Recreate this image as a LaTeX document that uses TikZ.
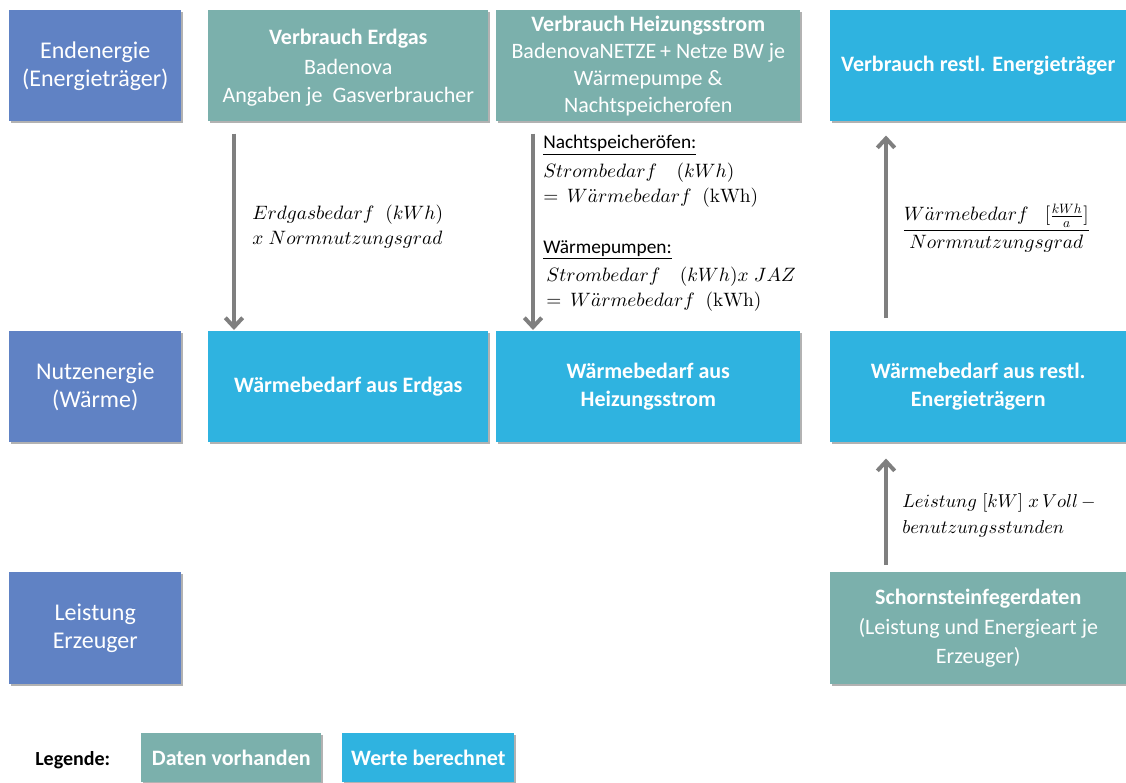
\documentclass[tikz,border=0pt]{standalone}
\usepackage[no-math]{fontspec}
\setmainfont{Carlito}
\DeclareFontShape{OML}{cmm}{m}{it}{<->cmmi10}{}
\DeclareFontShape{OT1}{cmr}{m}{n}{<->cmr10}{}
\DeclareFontShape{OMS}{cmsy}{m}{n}{<->cmsy10}{}
\DeclareFontShape{OMX}{cmex}{m}{n}{<->cmex10}{}
\usetikzlibrary{arrows.meta,calc,shadows}
\definecolor{lila}{HTML}{6082C4}
\definecolor{tealbox}{HTML}{7BB0AC}
\definecolor{cyanbox}{HTML}{2FB3E0}
\definecolor{arrgray}{HTML}{7F7F7F}
\begin{document}
\begin{tikzpicture}[x=0.75pt,y=-0.75pt,
  box/.style 2 args={anchor=north west, inner sep=2pt, text=white, align=center,
    minimum width=#1*0.75pt, minimum height=#2*0.75pt,
    font=\fontsize{16.5}{21.5}\selectfont,
    drop shadow={shadow xshift=1.6pt, shadow yshift=-1.6pt, opacity=0.3, fill=black}},
  lvl/.style={fill=lila, font=\fontsize{18}{21}\selectfont},
  have/.style={fill=tealbox},
  calc/.style={fill=cyanbox},
  flow/.style={draw=arrgray, line width=3pt, -{Straight Barb[length=7pt,width=13pt]}},
  lbl/.style={inner sep=0pt, align=left, font=\fontsize{14.5}{18.5}\selectfont},
  ]
\useasboundingbox (0,0) rectangle (1126,782);
% level column
\node[box={172}{111}, lvl] (endE) at (9,10) {Endenergie\\(Energieträger)};
\node[box={172}{111}, lvl] (nutzE) at (9,331) {Nutzenergie\\(Wärme)};
\node[box={172}{112}, lvl] (leistE) at (9,572) {Leistung\\Erzeuger};
% top row
\node[box={280}{111}, have, text depth=0pt] (vErdgas) at (208,10) {\textbf{Verbrauch Erdgas}\\[1pt]Badenova\\Angaben je~ Gasverbraucher};
\node[box={304}{111}, have, font=\fontsize{16.5}{20.3}\selectfont] (vHeiz) at (496,10) {\textbf{Verbrauch Heizungsstrom}\\BadenovaNETZE\,+ Netze BW je\\Wärmepumpe \&\\Nachtspeicherofen};
\node[box={296}{111}, calc] (vRest) at (830,10) {\textbf{Verbrauch restl. Energieträger}};
% middle row
\node[box={280}{111}, calc] (wErdgas) at (208,331) {\textbf{Wärmebedarf aus Erdgas}};
\node[box={304}{111}, calc] (wHeiz) at (496,331) {\textbf{Wärmebedarf aus}\\\textbf{Heizungsstrom}};
\node[box={296}{111}, calc] (wRest) at (830,331) {\textbf{Wärmebedarf aus restl.}\\\textbf{Energieträgern}};
% bottom row
\node[box={296}{112}, have] (schorn) at (830,572) {\textbf{Schornsteinfegerdaten}\\[1pt](Leistung und Energieart je\\Erzeuger)};
% arrows
\draw[flow] ($(vErdgas.south west)+(26,12)$) -- ($(wErdgas.north west)+(26,-1)$);
\draw[flow] ($(vHeiz.south west)+(37,12)$) -- ($(wHeiz.north west)+(37,-1)$);
\draw[flow] ($(wRest.north west)+(56,-13)$) -- ($(vRest.south west)+(56,14)$);
\draw[flow] ($(schorn.north west)+(56,-7)$) -- ($(wRest.south west)+(56,16)$);
% labels
\node[lbl, anchor=north west] (lErdgas) at (252,205) {\(Erdgasbedarf\;\;(kWh)\)\\\(x\;Normnutzungsgrad\)};
\node[lbl, anchor=north west] (lNacht) at (543,135) {\underline{Nachtspeicheröfen:}\\[3pt]\(Strombedarf\;\;\;\,(kWh)\)\\\(=\,W\ddot{a}rmebedarf\;\;(\mathrm{kWh})\)};
\node[lbl, anchor=north west] (lWP) at (543,240) {\underline{Wärmepumpen:}\\[3pt]\,\(Strombedarf\;\;\;\,(kWh)x\;JAZ\)\\\,\(=\,W\ddot{a}rmebedarf\;\;(\mathrm{kWh})\)};
\node[lbl, anchor=west] (lRest) at (902,228) {\(\displaystyle\frac{W\ddot{a}rmebedarf\;\;\;[\frac{kWh}{a}]}{Normnutzungsgrad}\)};
\node[lbl, anchor=north west, font=\fontsize{14}{20}\selectfont] (lLeist) at (902,493) {\(Leistung\;[kW]\;x\,Voll\,-\)\\\(benutzungsstunden\)};
% legend
\node[anchor=west, inner sep=0pt, font=\fontsize{15}{17}\selectfont\bfseries] (leg) at (35,760) {Legende:};
\node[box={180}{49}, have, font=\fontsize{16.5}{18}\selectfont\bfseries] (legHave) at (141,733) {Daten vorhanden};
\node[box={172}{49}, calc, font=\fontsize{16.5}{18}\selectfont\bfseries] (legCalc) at (342,733) {Werte berechnet};
\end{tikzpicture}
\end{document}
